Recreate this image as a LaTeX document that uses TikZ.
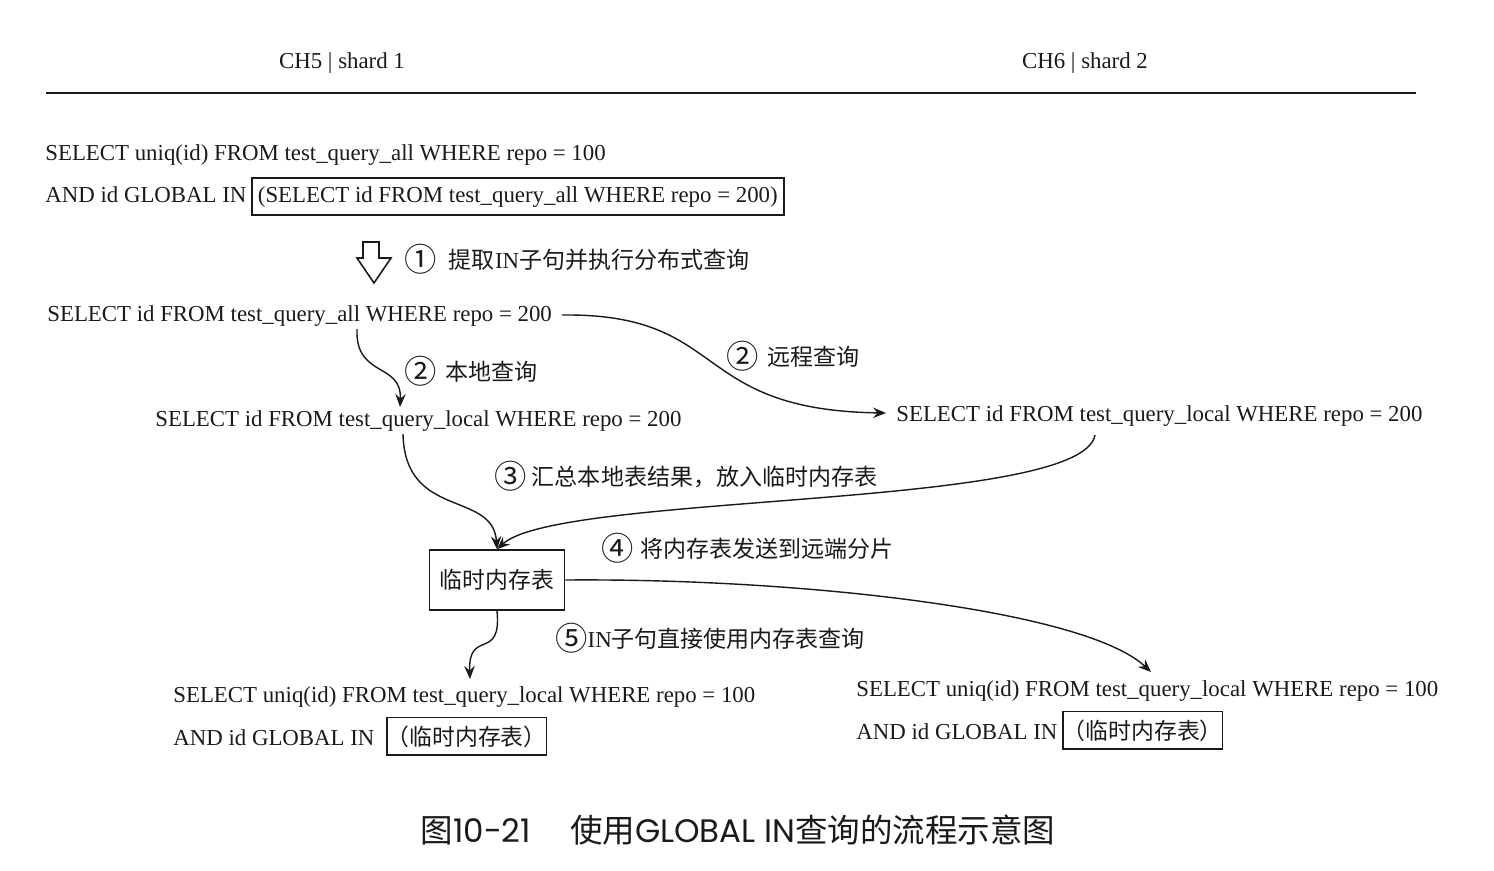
\documentclass[tikz,border=0pt]{standalone}
\usepackage{fontspec}
\setmainfont{Liberation Serif}
\newfontfamily\cjk{Noto Sans CJK SC}
\newfontfamily\capfont{Poppins}
\usetikzlibrary{arrows.meta}
\definecolor{ink}{HTML}{1A1A1A}
\newcommand\cnum[1]{\raisebox{-1.8pt}{\fontsize{18.4pt}{19pt}\selectfont\cjk #1}}
\newcommand\zh[1]{{\fontsize{13.1pt}{15pt}\selectfont\cjk #1}}
\tikzset{
  txt/.style={inner sep=0pt, anchor=base west, font=\fontsize{13pt}{15pt}\selectfont, text=ink},
  boxed/.style={draw=ink, line width=0.9pt, inner xsep=3.5pt, inner ysep=4.5pt, anchor=base west, font=\fontsize{13pt}{15pt}\selectfont, text=ink},
  conn/.style={draw=ink, line width=0.8pt, -{Stealth[length=2.6mm, width=2.1mm, inset=0.9mm]}},
}
\begin{document}
\begin{tikzpicture}[x=0.02cm, y=-0.02cm]
\useasboundingbox (0,0) rectangle (1494,870);

% header
\node[txt, anchor=base] (h1) at (342,68) {CH5 | shard 1};
\node[txt, anchor=base] (h2) at (1085,68) {CH6 | shard 2};
\coordinate (rl) at (46,93);
\coordinate (rr) at (1416,93);
\draw[ink, line width=0.8pt] (rl) -- (rr);

% original query
\node[txt] (q1) at (45,160) {SELECT uniq(id) FROM test\_query\_all WHERE repo = 100};
\node[txt] (and1) at (45,202) {AND id GLOBAL IN};
\node[boxed] (sub1) at (251,202) {(SELECT id FROM test\_query\_all WHERE repo = 200)};

% hollow down arrow
\draw[ink, line width=0.9pt, line join=miter] (363,242) -- (379,242) -- (379,258) -- (391,258) -- (374,283) -- (357,258) -- (363,258) -- cycle;
\node[txt] (s1) at (404,268) {\cnum{①}\hspace{7pt}\zh{提取}IN\zh{子句并执行分布式查询}};

% extracted subquery
\node[txt] (q2) at (47,321) {SELECT id FROM test\_query\_all WHERE repo = 200};
\node[txt] (q3) at (155,426) {SELECT id FROM test\_query\_local WHERE repo = 200};
\node[txt] (r1) at (896,421) {SELECT id FROM test\_query\_local WHERE repo = 200};

\node[txt] (s2a) at (404,380) {\cnum{②}\hspace{5pt}\zh{本地查询}};
\node[txt] (s2b) at (726,365) {\cnum{②}\hspace{5pt}\zh{远程查询}};

\coordinate (a1s) at (357,329);
\coordinate (a1e) at (400,407);
\draw[conn] (a1s) .. controls (355,378) and (402,362) .. (a1e);

\coordinate (a2s) at (562,315);
\coordinate (a2e) at (886,413);
\draw[conn] (a2s) .. controls (730,313) and (688,410) .. (a2e);

% temp table
\node[draw=ink, line width=0.9pt, minimum width=135*0.02cm, minimum height=60*0.02cm, inner sep=0pt, font=\fontsize{13pt}{15pt}\selectfont, text=ink] (tmp) at (497,580) {\cjk 临时内存表};

\node[txt] (s3) at (494,485) {\cnum{③}\hspace{3pt}\zh{汇总本地表结果，放入临时内存表}};
\node[txt] (s4) at (601,557) {\cnum{④}\hspace{4pt}\zh{将内存表发送到远端分片}};
\node[txt] (s5) at (555,647) {\cnum{⑤}IN\zh{子句直接使用内存表查询}};

\coordinate (a3s) at (403,434);
\coordinate (a4s) at (1095,435);
\draw[conn] (a3s) .. controls (405,520) and (493,490) .. (tmp.north);
\draw[conn] (a4s) .. controls (1082,510) and (560,492) .. (tmp.north);

% final queries
\node[txt] (q4) at (173,702) {SELECT uniq(id) FROM test\_query\_local WHERE repo = 100};
\node[txt] (and2) at (173,745) {AND id GLOBAL IN};
\node[boxed, inner xsep=0pt] (box2) at (386,745) {\cjk （临时内存表）};

\node[txt] (q5) at (856,696) {SELECT uniq(id) FROM test\_query\_local WHERE repo = 100};
\node[txt] (and3) at (856,739) {AND id GLOBAL IN};
\node[boxed, inner xsep=0pt] (box3) at (1062,739) {\cjk （临时内存表）};

\coordinate (a5e) at (470,679);
\coordinate (a6e) at (1151,672);
\draw[conn] (tmp.south) .. controls (502,662) and (468,628) .. (a5e);
\draw[conn] (tmp.east) .. controls (800,578) and (1085,610) .. (a6e);

% caption
\node[inner sep=0pt, font=\fontsize{18.5pt}{21pt}\selectfont, text=ink] (cap) at (738,830) {{\cjk 图}{\capfont 10-21}\hspace{1.2em}{\cjk 使用}{\capfont GLOBAL IN}{\cjk 查询的流程示意图}};
\end{tikzpicture}
\end{document}
